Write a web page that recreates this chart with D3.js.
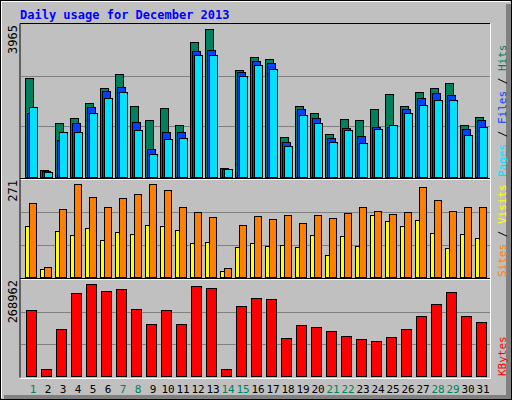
<!DOCTYPE html>
<html><head><meta charset="utf-8">
<script src="https://cdn.jsdelivr.net/npm/d3@7"></script>
<style>body{margin:0;background:#fff}svg{display:block}text{font-family:"DejaVu Sans Mono",monospace}</style>
</head><body>
<script>
var days = d3.range(1, 32);
var weekend = [1, 7, 8, 14, 15, 21, 22, 28, 29];
var hits = [2573,184,1418,1549,1943,2311,2679,1864,1497,1812,1366,3519,3860,236,2784,3125,3072,1050,1864,1681,1129,1523,1497,1786,2153,1864,2206,2311,2442,1366,1576];
var files = [1681,158,972,1418,1838,2232,2337,1444,735,1182,1182,3283,3309,210,2731,3020,2967,919,1786,1549,1024,1287,1077,1313,1313,1786,2048,2180,2127,1260,1497];
var pages = [1838,131,1182,1182,1681,2048,2206,1234,604,998,1024,3177,3177,210,2626,2915,2810,814,1628,1418,919,1234,893,1260,1366,1681,1891,1996,1996,1103,1313];
var visits = [206,28,190,259,223,195,220,232,259,243,195,181,167,25,145,170,162,173,151,173,165,179,195,184,176,181,251,215,184,195,195];
var sites = [142,22,128,117,137,103,126,120,145,142,131,95,98,17,84,95,86,89,84,117,61,114,86,173,156,142,159,123,81,120,109];
var kbytes = [184932,19614,131694,232566,257784,238170,243774,187734,145704,184932,145704,252180,246576,19614,196140,218556,215754,106476,142902,137298,126090,112080,103674,98070,109278,131694,168120,201744,235368,168120,151308];
var maxHits = 3965, maxVisits = 271, maxKbytes = 268962;

var W = 512, H = 400;
var svg = d3.select("body").append("svg").attr("width", W).attr("height", H);

// frame with bevel
svg.append("rect").attr("width", W).attr("height", H).attr("fill", "#c0c0c0");
svg.append("rect").attr("x", 506).attr("y", 4).attr("width", 6).attr("height", 396).attr("fill", "#808080");
svg.append("rect").attr("x", 4).attr("y", 395).attr("width", 508).attr("height", 5).attr("fill", "#808080");
svg.append("path").attr("d", "M1,398V1H510").attr("stroke", "#fff").attr("stroke-width", 2).attr("fill", "none");
svg.append("rect").attr("x", 0.5).attr("y", 0.5).attr("width", W - 1).attr("height", H - 1).attr("fill", "none").attr("stroke", "#000");

svg.append("text").attr("x", 20).attr("y", 19).attr("fill", "#0000ff")
  .attr("font-size", 12).attr("font-weight", "bold").text("Daily usage for December 2013");

var x = d3.scaleLinear().domain([1, 31]).range([25, 475]);
var left = 20, right = 490;

var panels = [
  { top: 25, bottom: 177, max: maxHits, label: "3965",
    series: [[hits, "#00805c", 0, 8], [files, "#0040ff", 2, 8], [pages, "#00e0ff", 4, 8]],
    names: [["Pages", "#00e0ff"], [" / ", "#000"], ["Files", "#0040ff"], [" / ", "#000"], ["Hits", "#00805c"]] },
  { top: 180, bottom: 277, max: maxVisits, label: "271",
    series: [[sites, "#ffff00", 0, 5], [visits, "#ff8000", 4, 7]],
    names: [["Sites", "#ff8000"], [" / ", "#000"], ["Visits", "#ffff00"]] },
  { top: 280, bottom: 376, max: maxKbytes, label: "268962",
    series: [[kbytes, "#ff0000", 1, 10]],
    names: [["KBytes", "#ff0000"]] }
];

panels.forEach(function(p) {
  var y = d3.scaleLinear().domain([0, p.max]).range([p.bottom, p.top]);
  var g = svg.append("g");
  g.append("path").attr("d", "M" + left + "," + (p.bottom + 1.5) + "V" + (p.top - 1.5) + "H" + right)
    .attr("stroke", "#000").attr("fill", "none");
  g.append("path").attr("d", "M" + (left) + "," + (p.bottom + 2.5) + "H" + (right + 0.5) + "V" + (p.top - 1.5))
    .attr("stroke", "#fff").attr("fill", "none");
  g.selectAll("line.grid").data([p.max / 3, p.max * 2 / 3]).enter().append("line")
    .attr("x1", left + 1).attr("x2", right).attr("y1", function(d) { return Math.round(y(d)) + 0.5; })
    .attr("y2", function(d) { return Math.round(y(d)) + 0.5; }).attr("stroke", "#808080");
  p.series.forEach(function(s) {
    g.selectAll(null).data(s[0]).enter().append("rect")
      .attr("x", function(d, i) { return Math.round(x(days[i])) + s[2] + 0.5; })
      .attr("y", function(d) { return Math.round(y(d)) + 0.5; })
      .attr("width", s[3])
      .attr("height", function(d) { return p.bottom - Math.round(y(d)); })
      .attr("fill", s[1]).attr("stroke", "#000");
  });
  svg.append("text").attr("transform", "translate(17," + p.top + ") rotate(-90)")
    .attr("text-anchor", "end").attr("font-size", 12).attr("fill", "#000").text(p.label);
  var t = svg.append("text").attr("transform", "translate(502," + p.bottom + ") rotate(-90)")
    .attr("font-size", 11).attr("dy", "0.35em");
  p.names.forEach(function(n) { t.append("tspan").attr("fill", n[1]).text(n[0]); });
});

svg.selectAll("text.day").data(days).enter().append("text")
  .attr("x", function(d) { return x(d) + 8; }).attr("y", 393)
  .attr("text-anchor", "middle").attr("font-size", 11)
  .attr("fill", function(d) { return weekend.indexOf(d) >= 0 ? "#00805c" : "#000"; })
  .text(function(d) { return d; });
</script>
</body></html>
